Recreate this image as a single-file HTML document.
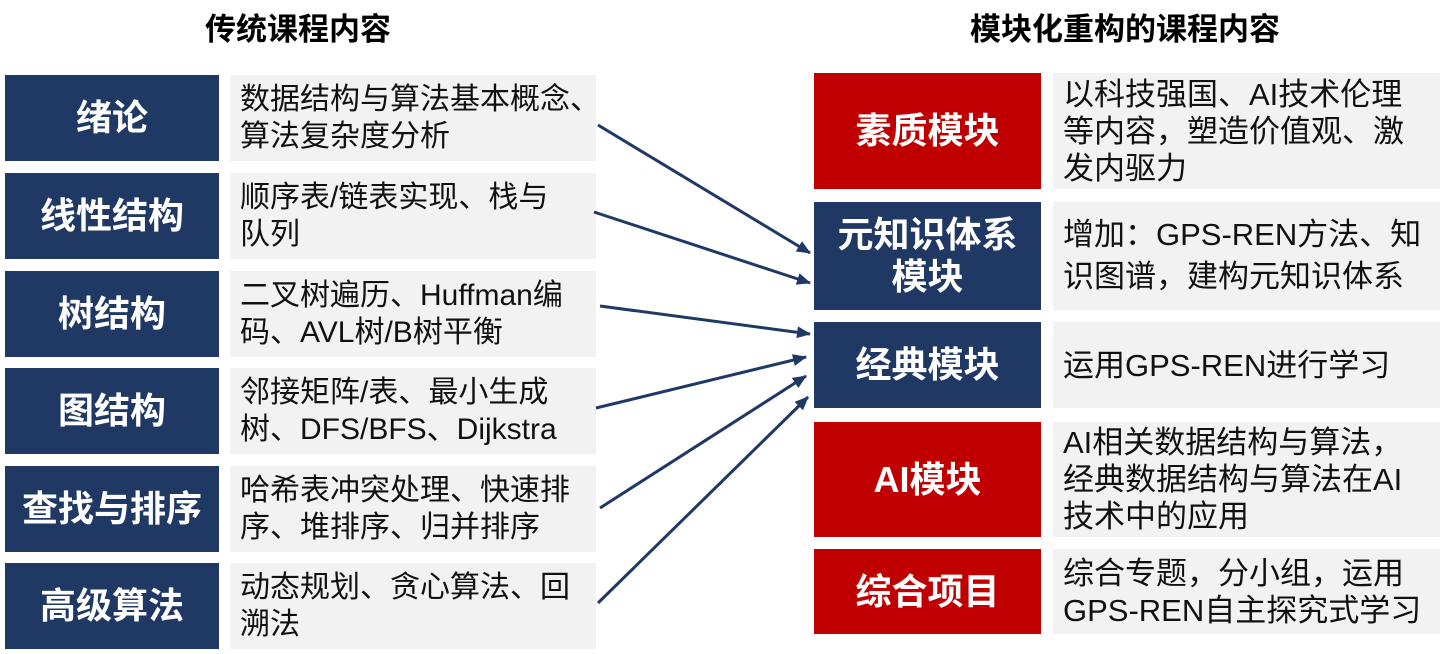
<!DOCTYPE html>
<html><head><meta charset="utf-8"><style>
body{margin:0;width:1445px;height:654px;background:#fff;position:relative;overflow:hidden;font-family:"Liberation Sans","Noto Sans CJK SC",sans-serif}
.b{position:absolute;display:flex;align-items:center;justify-content:center;text-align:center;color:#fff;font-weight:bold;font-size:36px;line-height:42px}
.n{background:#1f3864}.r{background:#c00000}
.g{position:absolute;background:#f2f2f2;color:#111;font-size:30px;line-height:37px;padding:0 10px;box-sizing:border-box;display:flex;align-items:center;white-space:nowrap}
.t{position:absolute;font-weight:bold;font-size:31px;top:4px}
</style></head><body>
<div class="t" style="left:205px">传统课程内容</div>
<div class="t" style="left:970px">模块化重构的课程内容</div>

<div class="b n" style="left:5px;top:75px;width:214px;height:86px">绪论</div>
<div class="b n" style="left:5px;top:173px;width:214px;height:86px">线性结构</div>
<div class="b n" style="left:5px;top:271px;width:214px;height:86px">树结构</div>
<div class="b n" style="left:5px;top:368px;width:214px;height:86px">图结构</div>
<div class="b n" style="left:5px;top:466px;width:214px;height:86px">查找与排序</div>
<div class="b n" style="left:5px;top:563px;width:214px;height:86px">高级算法</div>

<div class="g" style="left:230px;top:75px;width:366px;height:86px">数据结构与算法基本概念、<br>算法复杂度分析</div>
<div class="g" style="left:230px;top:173px;width:366px;height:86px">顺序表/链表实现、栈与<br>队列</div>
<div class="g" style="left:230px;top:271px;width:366px;height:86px">二叉树遍历、Huffman编<br>码、AVL树/B树平衡</div>
<div class="g" style="left:230px;top:368px;width:366px;height:86px">邻接矩阵/表、最小生成<br>树、DFS/BFS、Dijkstra</div>
<div class="g" style="left:230px;top:466px;width:366px;height:86px">哈希表冲突处理、快速排<br>序、堆排序、归并排序</div>
<div class="g" style="left:230px;top:563px;width:366px;height:86px">动态规划、贪心算法、回<br>溯法</div>

<div class="b r" style="left:814px;top:73px;width:227px;height:116px">素质模块</div>
<div class="b n" style="left:814px;top:202px;width:227px;height:108px">元知识体系<br>模块</div>
<div class="b n" style="left:814px;top:322px;width:227px;height:86px">经典模块</div>
<div class="b r" style="left:814px;top:422px;width:227px;height:115px">AI模块</div>
<div class="b r" style="left:814px;top:549px;width:227px;height:85px">综合项目</div>

<div class="g" style="left:1053px;top:73px;width:387px;height:116px;font-size:31px">以科技强国、AI技术伦理<br>等内容，塑造价值观、激<br>发内驱力</div>
<div class="g" style="left:1053px;top:202px;width:387px;height:108px;font-size:31px;line-height:42px">增加：GPS-REN方法、知<br>识图谱，建构元知识体系</div>
<div class="g" style="left:1053px;top:322px;width:387px;height:86px;font-size:31px">运用GPS-REN进行学习</div>
<div class="g" style="left:1053px;top:422px;width:387px;height:115px;font-size:31px">AI相关数据结构与算法，<br>经典数据结构与算法在AI<br>技术中的应用</div>
<div class="g" style="left:1053px;top:549px;width:387px;height:85px;font-size:31px">综合专题，分小组，运用<br>GPS-REN自主探究式学习</div>

<svg width="1445" height="654" style="position:absolute;left:0;top:0">
<defs><marker id="a" markerWidth="14" markerHeight="12" refX="13" refY="6" orient="auto" markerUnits="userSpaceOnUse" viewBox="0 0 14 12"><path d="M0,0 L14,6 L0,12z" fill="#1f3864"/></marker></defs>
<g stroke="#1f3864" stroke-width="3" marker-end="url(#a)" fill="none">
<line x1="598" y1="125" x2="810" y2="253"/>
<line x1="594" y1="212" x2="810" y2="283"/>
<line x1="600" y1="306" x2="810" y2="334"/>
<line x1="596" y1="408" x2="806" y2="357"/>
<line x1="600" y1="508" x2="806" y2="376"/>
<line x1="598" y1="603" x2="808" y2="397"/>
</g></svg>
</body></html>
